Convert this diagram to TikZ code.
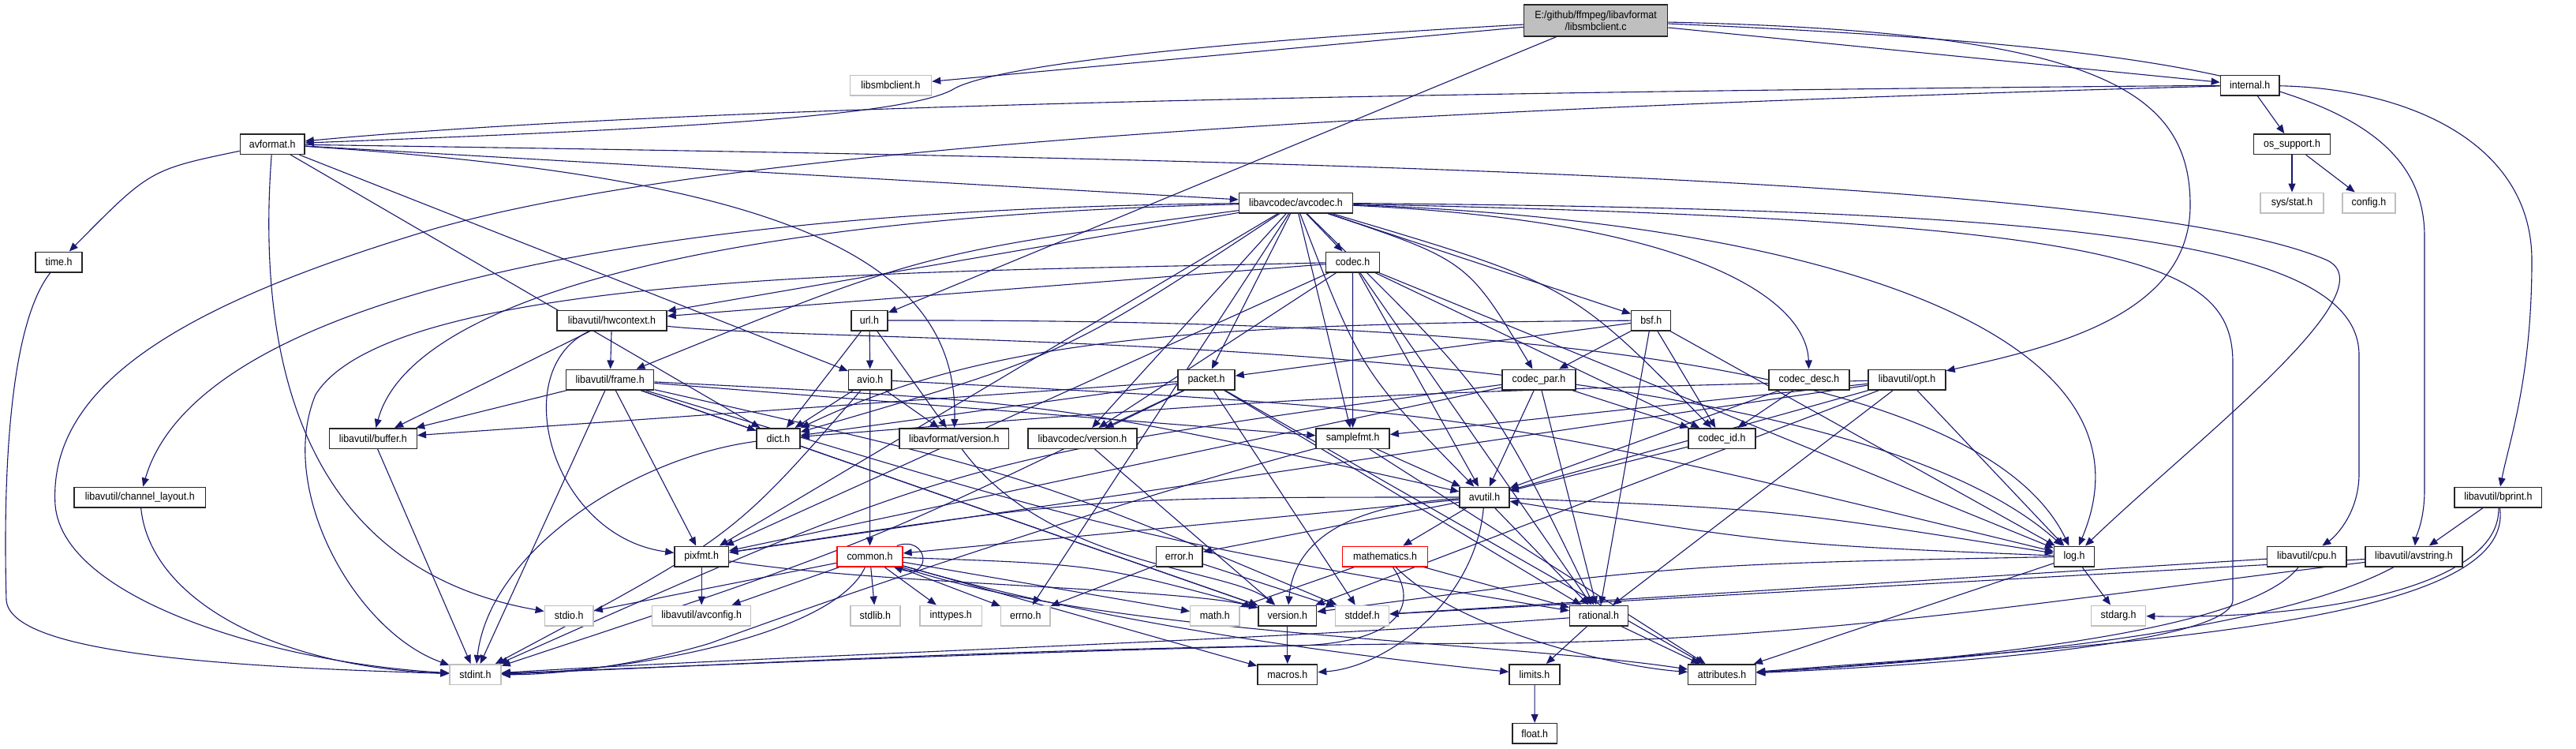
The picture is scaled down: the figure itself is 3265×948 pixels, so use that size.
\documentclass[tikz,border=0pt]{standalone}
\usepackage{fontspec}
\setmainfont{Liberation Sans}[FakeStretch=0.92]
\usetikzlibrary{arrows.meta}
\definecolor{edgecol}{HTML}{191970}
\definecolor{extgray}{HTML}{BFBFBF}
\definecolor{rootgray}{HTML}{BFBFBF}
\pgfdeclarelayer{bglayer}
\pgfdeclarelayer{edgelayer}
\pgfsetlayers{bglayer,edgelayer,main}
\tikzset{
  e/.style={draw=edgecol, line width=1.1pt, -{Triangle[length=11pt,width=9pt]}},
  filebox/.style={draw=black!85, line width=1.5pt, fill=white, minimum height=25.5pt, inner sep=0pt, text=black, font=\fontsize{13.5}{16}\selectfont},
  extbox/.style={filebox, draw=extgray},
  truncbox/.style={filebox, draw=red},
  rootbox/.style={filebox, fill=rootgray, minimum height=40pt, align=center, font=\fontsize{13.5}{15}\selectfont},
}
\begin{document}
\begin{tikzpicture}[x=1pt,y=-1pt]
\useasboundingbox (0,0) rectangle (3265,948);
\begin{pgfonlayer}{bglayer}
\fill[white] (0,0) rectangle (3265,948);
\end{pgfonlayer}
% nodes
\node[rootbox, minimum width=182pt] (root) at (2022.6,26) {E:/github/ffmpeg/libavformat\\/libsmbclient.c};
\node[extbox, minimum width=103pt] (smbh) at (1129,108) {libsmbclient.h};
\node[filebox, minimum width=74.4pt] (internal) at (2851.6,108) {internal.h};
\node[filebox, minimum width=81.6pt] (avformat) at (345.2,182.7) {avformat.h};
\node[filebox, minimum width=97pt] (ossup) at (2905,182.7) {os\_support.h};
\node[filebox, minimum width=144pt] (avcodec) at (1642.5,257) {libavcodec/avcodec.h};
\node[extbox, minimum width=80pt] (sysstat) at (2905,257) {sys/stat.h};
\node[extbox, minimum width=67pt] (config) at (3002.4,257) {config.h};
\node[filebox, minimum width=59pt] (timeh) at (74.5,332) {time.h};
\node[filebox, minimum width=68pt] (codec) at (1714.5,332) {codec.h};
\node[filebox, minimum width=139pt] (hwctx) at (775.5,406) {libavutil/hwcontext.h};
\node[filebox, minimum width=46pt] (url) at (1102,406) {url.h};
\node[filebox, minimum width=50pt] (bsf) at (2092.7,406) {bsf.h};
\node[filebox, minimum width=111pt] (frame) at (773.2,481) {libavutil/frame.h};
\node[filebox, minimum width=54.4pt] (avio) at (1102.8,481) {avio.h};
\node[filebox, minimum width=72pt] (packet) at (1529,481) {packet.h};
\node[filebox, minimum width=93pt] (codecpar) at (1950.5,481) {codec\_par.h};
\node[filebox, minimum width=102pt] (codecdesc) at (2293,481) {codec\_desc.h};
\node[filebox, minimum width=98pt] (opt) at (2417,481) {libavutil/opt.h};
\node[filebox, minimum width=111pt] (buffer) at (472.8,555.5) {libavutil/buffer.h};
\node[filebox, minimum width=55pt] (dict) at (986.5,555.5) {dict.h};
\node[filebox, minimum width=138.6pt] (lavfver) at (1209.3,555.5) {libavformat/version.h};
\node[filebox, minimum width=137.7pt] (lavcver) at (1371.9,555.5) {libavcodec/version.h};
\node[filebox, minimum width=93pt] (samplefmt) at (1714.6,555.5) {samplefmt.h};
\node[filebox, minimum width=85.3pt] (codecid) at (2182.4,555.5) {codec\_id.h};
\node[filebox, minimum width=166.5pt] (chlayout) at (177.3,630) {libavutil/channel\_layout.h};
\node[filebox, minimum width=62.8pt] (avutil) at (1881.5,630) {avutil.h};
\node[filebox, minimum width=110.5pt] (bprint) at (3166.4,630) {libavutil/bprint.h};
\node[filebox, minimum width=68.5pt] (pixfmt) at (889.2,705) {pixfmt.h};
\node[truncbox, minimum width=83pt] (common) at (1102.5,705) {common.h};
\node[filebox, minimum width=58.6pt] (error) at (1494.8,705) {error.h};
\node[truncbox, minimum width=108.2pt] (mathem) at (1755.6,705) {mathematics.h};
\node[filebox, minimum width=50.7pt] (log) at (2629,705) {log.h};
\node[filebox, minimum width=100.2pt] (cpu) at (2923.8,705) {libavutil/cpu.h};
\node[filebox, minimum width=122.8pt] (avstring) at (3059.5,705) {libavutil/avstring.h};
\node[extbox, minimum width=61.7pt] (stdio) at (721.2,780) {stdio.h};
\node[extbox, minimum width=125pt] (avconfig) at (889.2,780) {libavutil/avconfig.h};
\node[extbox, minimum width=63.3pt] (stdlib) at (1109.4,780) {stdlib.h};
\node[extbox, minimum width=78.5pt] (inttypes) at (1205.3,780) {inttypes.h};
\node[extbox, minimum width=62.2pt] (errno) at (1299.8,780) {errno.h};
\node[extbox, minimum width=62.2pt] (math) at (1539.8,780) {math.h};
\node[filebox, minimum width=73.5pt] (version) at (1631.8,780) {version.h};
\node[extbox, minimum width=68pt] (stddef) at (1726.6,780) {stddef.h};
\node[filebox, minimum width=73.8pt] (rational) at (2026.5,780) {rational.h};
\node[extbox, minimum width=69pt] (stdarg) at (2685.1,780) {stdarg.h};
\node[extbox, minimum width=65pt] (stdint) at (602.5,854.5) {stdint.h};
\node[filebox, minimum width=75.6pt] (macros) at (1631.8,854.5) {macros.h};
\node[filebox, minimum width=64pt] (limits) at (1945,854.5) {limits.h};
\node[filebox, minimum width=85.8pt] (attributes) at (2182.6,854.5) {attributes.h};
\node[filebox, minimum width=56.5pt] (float) at (1945.2,929.3) {float.h};
% edges
\begin{pgfonlayer}{edgelayer}
% root
\draw[e] (root) -- (smbh);
\draw[e] (root) .. controls (1500,55) and (1260,85) .. (1210,112) .. controls (1150,150) and (800,165) .. (avformat);
\draw[e] (root) -- (url);
\draw[e] (root) -- (internal);
\draw[e] (root) .. controls (2650,40) and (2776,110) .. (2776,260) .. controls (2776,400) and (2600,440) .. (opt);
\draw[e] (root) .. controls (2800,60) and (3073,110) .. (3073,300) -- (3073,620) .. controls (3073,660) and (3062,680) .. (avstring);
% internal
\draw[e] (internal) -- (ossup);
\draw[e] (internal) .. controls (1600,118) and (800,140) .. (avformat);
\draw[e] (internal) .. controls (1700,140) and (900,190) .. (550,290) .. controls (250,380) and (60,480) .. (70,640) .. controls (80,760) and (350,840) .. (stdint);
\draw[e] (internal) .. controls (3050,112) and (3209,180) .. (3209,330) .. controls (3209,480) and (3180,560) .. (bprint);
\draw[e] (ossup) -- (sysstat);
\draw[e] (ossup) -- (config);
% avformat
\draw[e] (avformat) .. controls (190,215) .. (timeh);
\draw[e] (avformat) .. controls (325,450) and (380,720) .. (stdio);
\draw[e] (avformat) -- (avcodec);
\draw[e] (avformat) -- (dict);
\draw[e] (avformat) -- (avio);
\draw[e] (avformat) .. controls (1500,200) and (2700,220) .. (2950,330) .. controls (3030,370) and (2780,560) .. (log);
\draw[e] (avformat) .. controls (1000,225) and (1215,330) .. (lavfver);
% avcodec
\draw[e] (avcodec) -- (codec);
\draw[e] (avcodec) -- (bsf);
\draw[e] (avcodec) .. controls (1860,330) .. (codecpar);
\draw[e] (avcodec) .. controls (2150,280) and (2290,380) .. (codecdesc);
\draw[e] (avcodec) .. controls (1990,360) .. (codecid);
\draw[e] (avcodec) -- (packet);
\draw[e] (avcodec) -- (lavcver);
\draw[e] (avcodec) -- (samplefmt);
\draw[e] (avcodec) .. controls (1725,470) .. (avutil);
\draw[e] (avcodec) -- (errno);
\draw[e] (avcodec) .. controls (2700,280) and (2830,330) .. (2830,460) -- (2830,760) .. controls (2830,820) and (2400,845) .. (attributes);
\draw[e] (avcodec) .. controls (2600,265) and (2990,300) .. (2990,450) -- (2990,600) .. controls (2990,650) and (2960,680) .. (cpu);
\draw[e] (avcodec) .. controls (2300,280) and (2750,420) .. (log);
\draw[e] (avcodec) .. controls (1890,500) .. (rational);
\draw[e] (avcodec) .. controls (900,275) and (520,380) .. (buffer);
\draw[e] (avcodec) .. controls (800,265) and (250,380) .. (chlayout);
\draw[e] (avcodec) .. controls (1350,450) .. (dict);
\draw[e] (avcodec) .. controls (1170,320) .. (frame);
\draw[e] (avcodec) -- (hwctx);
\draw[e] (avcodec) -- (pixfmt);
% codec
\draw[e] (codec) .. controls (1200,345) and (500,340) .. (400,500) .. controls (350,620) and (450,800) .. (stdint);
\draw[e] (codec) -- (avutil);
\draw[e] (codec) -- (hwctx);
\draw[e] (codec) -- (log);
\draw[e] (codec) -- (pixfmt);
\draw[e] (codec) -- (rational);
\draw[e] (codec) -- (samplefmt);
\draw[e] (codec) -- (codecid);
\draw[e] (codec) -- (lavcver);
% hwcontext
\draw[e] (hwctx) -- (buffer);
\draw[e] (hwctx) -- (frame);
\draw[e] (hwctx) .. controls (1100,440) and (2300,410) .. (log);
\draw[e] (hwctx) .. controls (640,470) and (700,680) .. (pixfmt);
% url
\draw[e] (url) -- (avio);
\draw[e] (url) -- (lavfver);
\draw[e] (url) -- (dict);
\draw[e] (url) .. controls (1800,405) and (2500,440) .. (log);
% bsf
\draw[e] (bsf) .. controls (1500,410) and (1250,430) .. (dict);
\draw[e] (bsf) -- (log);
\draw[e] (bsf) -- (rational);
\draw[e] (bsf) -- (codecid);
\draw[e] (bsf) -- (codecpar);
\draw[e] (bsf) -- (packet);
% codec_par
\draw[e] (codecpar) .. controls (1220,580) .. (stdint);
\draw[e] (codecpar) -- (avutil);
\draw[e] (codecpar) -- (rational);
\draw[e] (codecpar) -- (pixfmt);
\draw[e] (codecpar) -- (codecid);
% codec_desc, codec_id
\draw[e] (codecdesc) -- (avutil);
\draw[e] (codecdesc) -- (codecid);
\draw[e] (codecid) -- (avutil);
% packet
\draw[e] (packet) -- (stddef);
\draw[e] (packet) .. controls (1100,690) .. (stdint);
\draw[e] (packet) -- (attributes);
\draw[e] (packet) -- (buffer);
\draw[e] (packet) -- (dict);
\draw[e] (packet) -- (rational);
\draw[e] (packet) -- (lavcver);
% versions
\draw[e] (lavcver) -- (version);
\draw[e] (lavfver) .. controls (1330,720) and (1560,720) .. (version);
% avio
\draw[e] (avio) .. controls (930,680) .. (stdint);
\draw[e] (avio) -- (common);
\draw[e] (avio) -- (dict);
\draw[e] (avio) .. controls (1866,520) .. (log);
\draw[e] (avio) -- (lavfver);
% opt
\draw[e] (opt) -- (rational);
\draw[e] (opt) -- (avutil);
\draw[e] (opt) .. controls (1700,500) .. (dict);
\draw[e] (opt) -- (log);
\draw[e] (opt) -- (pixfmt);
\draw[e] (opt) -- (samplefmt);
\draw[e] (opt) -- (version);
% avstring
\draw[e] (avstring) -- (stddef);
\draw[e] (avstring) .. controls (2600,760) and (2300,812) .. (1900,815) .. controls (1300,818) and (900,845) .. (stdint);
\draw[e] (avstring) .. controls (2900,790) and (2600,830) .. (attributes);
% bprint
\draw[e] (bprint) -- (avstring);
\draw[e] (bprint) .. controls (3170,740) and (2950,785) .. (stdarg);
\draw[e] (bprint) .. controls (3190,790) and (2700,815) .. (attributes);
% cpu
\draw[e] (cpu) -- (stddef);
\draw[e] (cpu) .. controls (2850,800) and (2500,835) .. (attributes);
% log
\draw[e] (log) -- (stdarg);
\draw[e] (log) .. controls (2258,690) .. (avutil);
\draw[e] (log) -- (attributes);
\draw[e] (log) .. controls (2130,715) .. (version);
% avutil
\draw[e] (avutil) .. controls (2250,645) .. (log);
\draw[e] (avutil) -- (common);
\draw[e] (avutil) -- (error);
\draw[e] (avutil) -- (rational);
\draw[e] (avutil) .. controls (1700,640) and (1640,690) .. (version);
\draw[e] (avutil) .. controls (1870,760) and (1760,845) .. (macros);
\draw[e] (avutil) -- (mathem);
\draw[e] (avutil) .. controls (1386,630) .. (pixfmt);
% common
\draw[e] ([xshift=-8pt]common.north east) .. controls +(40,-14) and +(50,16) .. ([xshift=-12pt]common.south east);
\draw[e] (common) -- (avconfig);
\draw[e] (common) -- (stdlib);
\draw[e] (common) -- (inttypes);
\draw[e] (common) -- (errno);
\draw[e] (common) -- (math);
\draw[e] (common) .. controls (1390,715) .. (version);
\draw[e] (common) -- (macros);
\draw[e] (common) .. controls (1400,790) and (1700,830) .. (limits);
\draw[e] (common) .. controls (1400,805) and (1900,812) .. (attributes);
\draw[e] (common) .. controls (1060,800) and (820,850) .. (stdint);
\draw[e] (common) -- (stdio);
% mathematics
\draw[e] (mathem) .. controls (1795,760) and (1785,812) .. (1650,818) .. controls (1300,825) and (850,845) .. (stdint);
\draw[e] (mathem) -- (math);
\draw[e] (mathem) .. controls (1850,800) and (2050,845) .. (attributes);
\draw[e] (mathem) -- (rational);
% rational
\draw[e] (rational) .. controls (1600,812) and (1000,830) .. (stdint);
\draw[e] (rational) -- (limits);
\draw[e] (rational) -- (attributes);
% small ones
\draw[e] (version) -- (macros);
\draw[e] (limits) -- (float);
\draw[e] (error) -- (errno);
\draw[e] (error) -- (stddef);
\draw[e] (pixfmt) -- (avconfig);
\draw[e] (pixfmt) .. controls (1100,740) and (1500,745) .. (version);
% frame
\draw[e] (frame) .. controls (1300,600) .. (stddef);
\draw[e] (frame) -- (stdint);
\draw[e] (frame) .. controls (1340,510) .. (avutil);
\draw[e] (frame) -- (buffer);
\draw[e] (frame) -- (dict);
\draw[e] (frame) .. controls (1430,680) .. (rational);
\draw[e] (frame) -- (samplefmt);
\draw[e] (frame) -- (pixfmt);
\draw[e] (frame) -- (version);
% samplefmt
\draw[e] (samplefmt) -- (avutil);
\draw[e] (samplefmt) -- (attributes);
\draw[e] (samplefmt) .. controls (1400,640) and (1050,760) .. (900,815) .. controls (800,845) and (700,855) .. (stdint);
% dict, buffer, channel_layout, time
\draw[e] (dict) .. controls (800,580) and (620,700) .. (stdint);
\draw[e] (dict) -- (version);
\draw[e] (buffer) -- (stdint);
\draw[e] (chlayout) .. controls (190,760) and (350,845) .. (stdint);
\draw[e] (timeh) .. controls (5,420) and (5,650) .. (8,760) .. controls (12,830) and (300,845) .. (stdint);
\end{pgfonlayer}
\end{tikzpicture}
\end{document}
